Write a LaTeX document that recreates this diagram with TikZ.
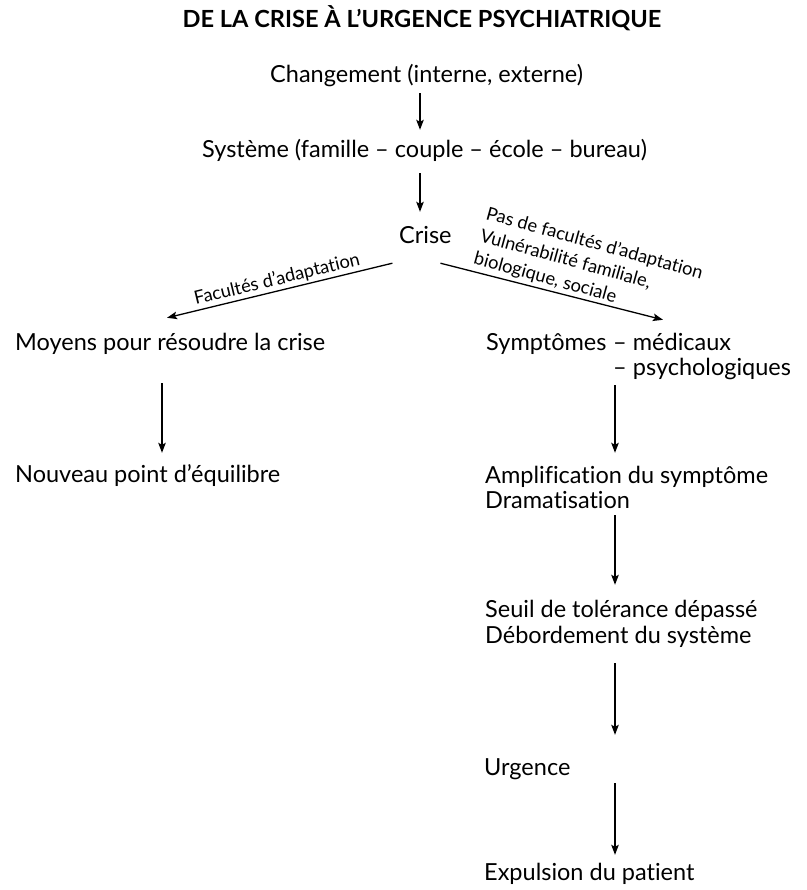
\documentclass[tikz,border=0pt]{standalone}
\usepackage{fontspec}
\setmainfont{Lato}[Ligatures={NoCommon,NoContextual}]
\usetikzlibrary{arrows.meta,calc}
\begin{document}
\begin{tikzpicture}[x=1pt,y=-1pt,
  txt/.style={anchor=base west, inner sep=0pt, text height=17pt, text depth=0pt, font=\fontsize{23.5}{26}\selectfont},
  lab/.style={inner sep=0pt, font=\fontsize{18.3}{23}\selectfont},
  arr/.style={-{Stealth[length=10pt,width=7.5pt,inset=2pt]}, line width=1.3pt}]
\fill[white] (0,0) rectangle (806,890);
\useasboundingbox (0,0) rectangle (806,890);
% title
\node[anchor=base, inner sep=0pt, font=\bfseries\fontsize{23.6}{26}\selectfont] (title) at (422,28) {DE LA CRISE À L’URGENCE PSYCHIATRIQUE};
% arrow x positions
\coordinate (ax) at (420,0);
\coordinate (axL) at (162,0);
\coordinate (axR) at (615,0);
% texts
\node[txt] (chg) at (270,83) {Changement (interne, externe)};
\node[txt] (sys) at (202,158) {Système (famille – couple – école – bureau)};
\node[txt] (crise) at (399,244) {Crise};
\node[txt] (moy) at (15,350) {Moyens pour résoudre la crise};
\node[txt] (nouv) at (15,482) {Nouveau point d’équilibre};
\node[txt] (sym) at (486,350) {Symptômes};
\node[txt] (med) at (613,350) {– médicaux};
\node[txt] (psy) at (613,375) {– psychologiques};
\node[txt] (amp) at (485,483) {Amplification du symptôme};
\node[txt] (dram) at (485,508) {Dramatisation};
\node[txt] (seuil) at (485,617) {Seuil de tolérance dépassé};
\node[txt] (deb) at (485,643) {Débordement du système};
\node[txt] (urg) at (484,775) {Urgence};
\node[txt] (exp) at (484,880) {Expulsion du patient};
% right label (one block, rotated)
\node[lab, anchor=base west, rotate=-15.5] (lr) at (485,219)
  {\begin{tabular}[t]{@{}l@{}}Pas de facultés d’adaptation\\Vulnérabilité familiale,\\biologique, sociale\end{tabular}};
% arrows
\draw[arr] ($(chg.south -| ax)+(0,10)$) -- ($(sys.north -| ax)+(0,-11)$);
\draw[arr] ($(sys.south -| ax)+(0,15)$) -- ($(crise.north -| ax)+(0,-15)$);
\draw[arr] ($(crise.south)+(-33,19)$) -- node[lab, sloped, pos=0.5, above=2pt] {Facultés d’adaptation} ($(moy.north west)+(152,-15)$);
\draw[arr] ($(crise.south)+(15,19)$) -- ($(med.north west)+(50,-13)$);
\draw[arr] ($(moy.south -| axL)+(0,33)$) -- ($(nouv.north -| axL)+(0,-12)$);
\draw[arr] ($(psy.south -| axR)+(0,10)$) -- ($(amp.north -| axR)+(0,-13)$);
\draw[arr] ($(dram.south -| axR)+(0,7)$) -- ($(seuil.north -| axR)+(0,-15)$);
\draw[arr] ($(deb.south -| axR)+(0,20)$) -- ($(urg.north -| axR)+(0,-23)$);
\draw[arr] ($(urg.south -| axR)+(0,8)$) -- ($(exp.north -| axR)+(0,-8)$);
\end{tikzpicture}
\end{document}
